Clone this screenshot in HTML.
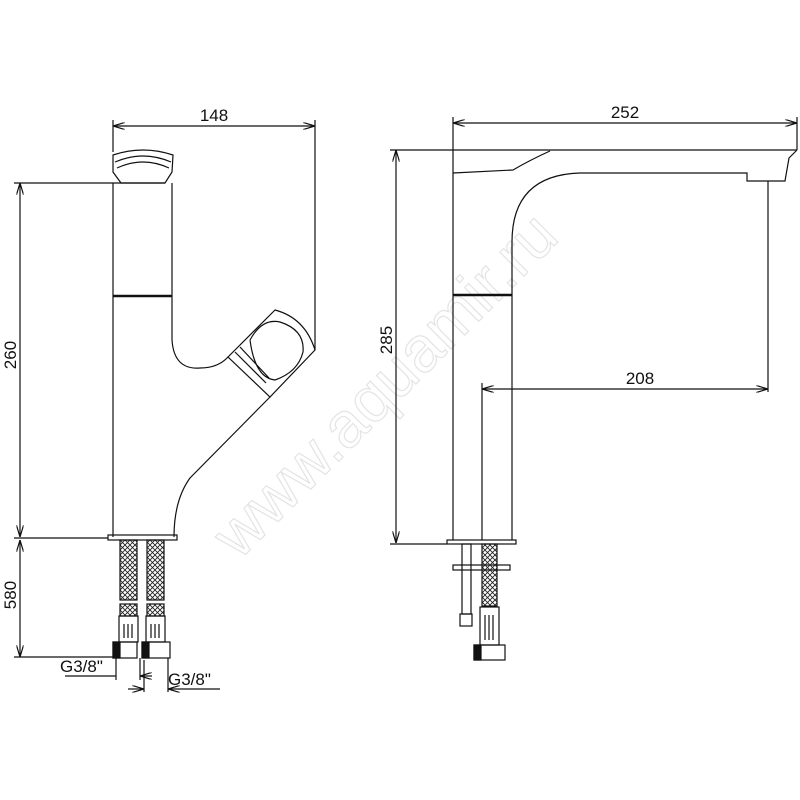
<!DOCTYPE html>
<html><head><style>
html,body{margin:0;padding:0;background:#fff;}
svg{display:block;}
text{font-family:"Liberation Sans",sans-serif;font-size:17px;fill:#111;}
</style></head><body>
<svg width="800" height="800" viewBox="0 0 800 800" xmlns="http://www.w3.org/2000/svg">
<defs>
<marker id="a" viewBox="0 0 10 6" refX="10" refY="3" markerWidth="10" markerHeight="6" orient="auto-start-reverse"><path d="M0,0 L10,3 L0,6" fill="none" stroke="#111" stroke-width="1"/></marker>
<pattern id="br" width="5" height="5" patternUnits="userSpaceOnUse"><path d="M0,0L5,5M5,0L0,5" stroke="#222" stroke-width="0.9"/></pattern>
</defs>
<text x="400" y="400" transform="rotate(-45 400 400)" text-anchor="middle" style="font-size:64px;fill:none;stroke:#e4e4e4;stroke-width:1.2">www.aquamir.ru</text>
<g fill="none" stroke="#111" stroke-width="1.2">
<!-- LEFT VIEW -->
<line x1="113" y1="126" x2="315" y2="126" marker-start="url(#a)" marker-end="url(#a)"/>
<line x1="113" y1="120" x2="113" y2="152"/>
<line x1="315" y1="120" x2="315" y2="350"/>
<path d="M113,155 Q143,145 173,155 L172,172 L165,183 L121,183 L113,172 Z"/>
<path d="M115,162 Q143,150 171,162 M117,168 Q143,156 169,168"/>
<line x1="113" y1="183" x2="113" y2="537"/>
<line x1="172" y1="183" x2="172" y2="340"/>
<line x1="113" y1="296" x2="172" y2="296" stroke-width="2.5"/>
<path d="M172,340 Q174,370 200,368 Q218,368 228,357"/>
<path d="M228,357 L275,310 Q305,318 315,350 L270,397 Z"/>
<path d="M235,352 L266,383 M240,347 L269,378 M250,340 Q262,318 280,322 Q305,330 303,352 Q298,372 275,380 Q255,378 250,340"/>
<path d="M270,397 L190,478 Q174,500 174,537"/>
<rect x="108" y="535" width="69" height="5"/>
<line x1="20" y1="183" x2="20" y2="537" marker-start="url(#a)" marker-end="url(#a)"/>
<line x1="14" y1="183" x2="165" y2="183"/>
<line x1="14" y1="538" x2="108" y2="538"/>
<line x1="20" y1="540" x2="20" y2="657" marker-start="url(#a)" marker-end="url(#a)"/>
<line x1="14" y1="657" x2="113" y2="657"/>
<rect x="120" y="540" width="17" height="60" fill="url(#br)"/>
<rect x="147" y="540" width="17" height="60" fill="url(#br)"/>
<rect x="120" y="604" width="17" height="12" fill="url(#br)"/>
<rect x="147" y="604" width="17" height="12" fill="url(#br)"/>
<rect x="119" y="616" width="19" height="26"/>
<rect x="146" y="616" width="19" height="26"/>
<path d="M124,624V638M128,624V638M132,624V638M151,624V638M155,624V638M159,624V638"/>
<rect x="113" y="642" width="24" height="16"/>
<rect x="142" y="642" width="28" height="16"/>
<rect x="113" y="642" width="7" height="16" fill="#111"/>
<rect x="142" y="642" width="7" height="16" fill="#111"/>
<line x1="116" y1="658" x2="116" y2="680"/>
<line x1="140" y1="658" x2="140" y2="680"/>
<line x1="65" y1="676" x2="116" y2="676"/>
<line x1="140" y1="676" x2="152" y2="676" marker-start="url(#a)"/>
<line x1="144" y1="660" x2="144" y2="692"/>
<line x1="168" y1="658" x2="168" y2="692"/>
<line x1="128" y1="689" x2="144" y2="689" marker-end="url(#a)"/>
<line x1="168" y1="689" x2="220" y2="689" marker-start="url(#a)"/>
<!-- RIGHT VIEW -->
<line x1="453" y1="123" x2="797" y2="123" marker-start="url(#a)" marker-end="url(#a)"/>
<line x1="453" y1="117" x2="453" y2="150"/>
<line x1="797" y1="117" x2="797" y2="150"/>
<line x1="396" y1="150" x2="396" y2="543" marker-start="url(#a)" marker-end="url(#a)"/>
<line x1="390" y1="150" x2="797" y2="150"/>
<path d="M797,150 L789,158 L785,181 L747,181 L747,173 L580,173 Q512,175 512,242 L512,540"/>
<path d="M453,173 L513,170 Q530,160 550,151"/>
<line x1="453" y1="150" x2="453" y2="540"/>
<line x1="453" y1="295" x2="512" y2="295" stroke-width="2.5"/>
<line x1="482" y1="389" x2="768" y2="389" marker-start="url(#a)" marker-end="url(#a)"/>
<line x1="482" y1="383" x2="482" y2="540"/>
<line x1="768" y1="181" x2="768" y2="392"/>
<rect x="447" y="540" width="69" height="4"/>
<line x1="390" y1="544" x2="447" y2="544"/>
<rect x="462" y="544" width="9" height="70"/>
<rect x="453" y="565" width="57" height="5"/>
<rect x="460" y="614" width="12" height="12"/>
<rect x="482" y="544" width="15" height="62" fill="url(#br)"/>
<rect x="480" y="607" width="19" height="38"/>
<path d="M485,615V640M489,615V640M493,615V640"/>
<rect x="474" y="645" width="31" height="15"/>
<rect x="474" y="645" width="7" height="15" fill="#111"/>
</g>
<text x="214" y="121" text-anchor="middle">148</text>
<text x="625" y="118" text-anchor="middle">252</text>
<text x="640" y="384" text-anchor="middle">208</text>
<text transform="translate(16,355) rotate(-90)" text-anchor="middle">260</text>
<text transform="translate(16,595) rotate(-90)" text-anchor="middle">580</text>
<text transform="translate(392,340) rotate(-90)" text-anchor="middle">285</text>
<text x="60" y="672">G3/8"</text>
<text x="168" y="685">G3/8"</text>
</svg>
</body></html>
